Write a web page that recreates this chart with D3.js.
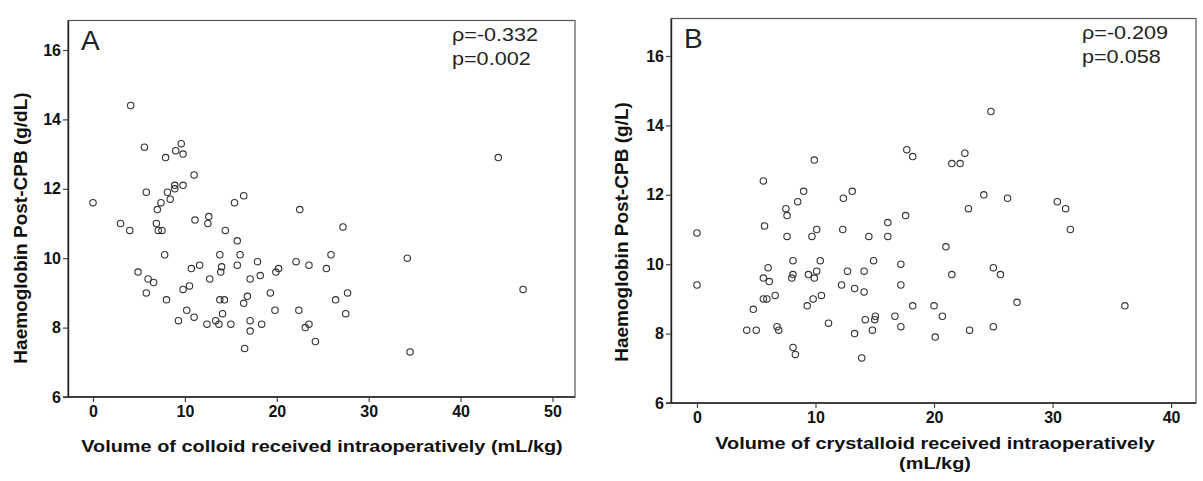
<!DOCTYPE html>
<html>
<head>
<meta charset="utf-8">
<script src="https://cdn.jsdelivr.net/npm/d3@7"></script>
<style>
  html, body { margin: 0; padding: 0; background: #fff; }
  svg { display: block; }
  .tick text { font-family: "Liberation Sans", Arial, sans-serif; font-weight: bold; font-size: 16px; fill: #111; }
  .title { font-family: "Liberation Sans", Arial, sans-serif; font-weight: bold; fill: #111; }
  .stat { font-family: "Liberation Sans", Arial, sans-serif; font-size: 18px; fill: #222; }
  .letter { font-family: "Liberation Sans", Arial, sans-serif; font-size: 28px; fill: #222; }
</style>
</head>
<body>
<svg id="chart" width="1203" height="481"></svg>
<script>
// Panel A: colloid volume (mL/kg) vs post-CPB haemoglobin (g/dL)
const colloidVolume = [4.1, 5.6, 9.6, 9.0, 9.8, 7.9, 11.0, 5.8, 8.9, 9.8, 8.9, 8.1, 0, 7.4, 8.4, 7.0,
  11.1, 12.6, 3.0, 4.0, 6.9, 7.1, 7.5, 12.5, 7.8, 4.9, 6.0, 6.6, 5.8, 10.7, 11.6, 12.7, 9.8, 10.5,
  8.0, 10.2, 11.0, 9.3, 12.4, 16.4, 15.4, 14.4, 22.5, 27.2, 15.7, 13.8, 16.0, 25.9, 14.0, 13.9, 15.7,
  17.9, 20.2, 19.9, 22.1, 23.5, 25.4, 17.1, 18.2, 19.3, 16.8, 16.4, 13.8, 14.3, 14.1, 19.8, 22.4,
  26.4, 27.7, 27.5, 13.35, 13.7, 15.0, 17.1, 17.1, 18.35, 23.5, 23.1, 24.2, 16.5, 44.1, 34.2, 46.8, 34.5];
const colloidHb = [14.4, 13.2, 13.3, 13.1, 13.0, 12.9, 12.4, 11.9, 12.1, 12.1, 12.0, 11.9, 11.6, 11.6, 11.7, 11.4,
  11.1, 11.2, 11.0, 10.8, 11.0, 10.8, 10.8, 11.0, 10.1, 9.6, 9.4, 9.3, 9.0, 9.7, 9.8, 9.4, 9.1, 9.2,
  8.8, 8.5, 8.3, 8.2, 8.1, 11.8, 11.6, 10.8, 11.4, 10.9, 10.5, 10.1, 10.1, 10.1, 9.75, 9.6, 9.8,
  9.9, 9.7, 9.6, 9.9, 9.8, 9.7, 9.4, 9.5, 9.0, 8.9, 8.7, 8.8, 8.8, 8.4, 8.5, 8.5,
  8.8, 9.0, 8.4, 8.2, 8.1, 8.1, 8.2, 7.9, 8.1, 8.1, 8.0, 7.6, 7.4, 12.9, 10.0, 9.1, 7.3];

// Panel B: crystalloid volume (mL/kg) vs post-CPB haemoglobin
const crystalloidVolume = [9.9, 5.6, 9.0, 8.5, 7.5, 7.6, 0, 5.7, 7.6, 10.1, 9.7, 0, 8.1, 10.4, 6.0, 5.6,
  6.1, 8.1, 8.0, 9.4, 10.1, 9.9, 5.6, 5.9, 6.6, 4.75, 9.3, 9.8, 10.5, 4.2, 5.0, 6.75, 6.9, 8.1, 8.3,
  11.1, 17.7, 18.2, 22.6, 21.5, 22.2, 13.1, 12.35, 22.9, 17.6, 16.1, 12.3, 14.5, 16.1, 21.0, 14.9,
  17.2, 12.7, 14.1, 21.5, 12.2, 13.3, 14.1, 17.2, 18.2, 20.0, 20.7, 14.2, 15.05, 15.0, 16.7, 14.8,
  13.3, 17.2, 20.1, 23.0, 13.9, 24.8, 24.2, 26.2, 30.4, 31.1, 31.5, 25.0, 25.6, 27.0, 36.1, 25.0];
const crystalloidHb = [13.0, 12.4, 12.1, 11.8, 11.6, 11.4, 10.9, 11.1, 10.8, 11.0, 10.8, 9.4, 10.1, 10.1, 9.9, 9.6,
  9.5, 9.7, 9.6, 9.7, 9.8, 9.6, 9.0, 9.0, 9.1, 8.7, 8.8, 9.0, 9.1, 8.1, 8.1, 8.2, 8.1, 7.6, 7.4,
  8.3, 13.3, 13.1, 13.2, 12.9, 12.9, 12.1, 11.9, 11.6, 11.4, 11.2, 11.0, 10.8, 10.8, 10.5, 10.1,
  10.0, 9.8, 9.8, 9.7, 9.4, 9.3, 9.2, 9.4, 8.8, 8.8, 8.5, 8.4, 8.5, 8.4, 8.5, 8.1,
  8.0, 8.2, 7.9, 8.1, 7.3, 14.4, 12.0, 11.9, 11.8, 11.6, 11.0, 9.9, 9.7, 8.9, 8.8, 8.2];

const hbTicks = [6, 8, 10, 12, 14, 16];
const colloidTicks = [0, 10, 20, 30, 40, 50];
const crystalloidTicks = [0, 10, 20, 30, 40];

const svg = d3.select("#chart");

// horizontal text is drawn slightly widened, like the exported figure
function wideText(sel, x, y, sx) {
  return sel.attr("transform", `translate(${x},${y}) scale(${sx},1)`);
}

function drawPanel(cfg) {
  const x = d3.scaleLinear().domain(cfg.xDomain).range([cfg.left, cfg.right]);
  const y = d3.scaleLinear().domain(cfg.yDomain).range([cfg.bottom, cfg.top]);
  const g = svg.append("g");

  // plot frame
  g.append("rect")
    .attr("x", cfg.left).attr("y", cfg.top)
    .attr("width", cfg.right - cfg.left).attr("height", cfg.bottom - cfg.top)
    .attr("fill", "none").attr("stroke", "#555").attr("stroke-width", 1.2);

  const xAxis = g.append("g")
    .attr("transform", `translate(0,${cfg.bottom})`)
    .call(d3.axisBottom(x).tickValues(cfg.xTicks).tickSize(5).tickPadding(4).tickSizeOuter(0));
  const yAxis = g.append("g")
    .attr("transform", `translate(${cfg.left},0)`)
    .call(d3.axisLeft(y).tickValues(hbTicks).tickSize(5).tickPadding(2).tickSizeOuter(0));
  [xAxis, yAxis].forEach(a => {
    a.select(".domain").attr("stroke", "#222").attr("stroke-width", 1.4);
    a.selectAll(".tick line").attr("stroke", "#444").attr("stroke-width", 1.2);
  });
  xAxis.select(".domain").attr("d", `M${cfg.left - 5},0H${cfg.right}`);

  // scatter markers
  g.append("g").selectAll("circle")
    .data(cfg.xs.map((v, i) => [v, cfg.ys[i]]))
    .join("circle")
    .attr("cx", d => x(d[0])).attr("cy", d => y(d[1]))
    .attr("r", 3.2)
    .attr("fill", "none").attr("stroke", "#333").attr("stroke-width", 1.1);

  // panel letter and statistics
  g.append("text").attr("class", "letter")
    .attr("x", cfg.left + 13).attr("y", cfg.top + 29).text(cfg.letter);
  wideText(g.append("text").attr("class", "stat"), cfg.statX, cfg.top + 20, 1.2).text(cfg.rho);
  wideText(g.append("text").attr("class", "stat"), cfg.statX, cfg.top + 44, 1.2).text(cfg.pval);

  // axis titles
  cfg.xTitle.forEach((line, i) => {
    wideText(g.append("text").attr("class", "title").attr("text-anchor", "middle")
      .style("font-size", "17px"), cfg.xTitleX, cfg.xTitleY + i * 20, 1.17).text(line);
  });
  g.append("text").attr("class", "title").attr("text-anchor", "middle")
    .style("font-size", "19px")
    .attr("transform", `translate(${cfg.yTitleX},${cfg.yTitleY}) rotate(-90)`)
    .text(cfg.yTitle);
}

drawPanel({
  left: 68, right: 575, top: 20.5, bottom: 397,
  xDomain: [-2.72, 52.45], yDomain: [6, 16.85],
  xTicks: colloidTicks, xs: colloidVolume, ys: colloidHb,
  letter: "A", rho: "\u03c1=-0.332", pval: "p=0.002", statX: 452,
  xTitle: ["Volume of colloid received intraoperatively (mL/kg)"], xTitleX: 322, xTitleY: 452,
  yTitle: "Haemoglobin Post-CPB (g/dL)", yTitleX: 27, yTitleY: 228
});

drawPanel({
  left: 671, right: 1196, top: 18.5, bottom: 403,
  xDomain: [-2.19, 42.1], yDomain: [6, 17.08],
  xTicks: crystalloidTicks, xs: crystalloidVolume, ys: crystalloidHb,
  letter: "B", rho: "\u03c1=-0.209", pval: "p=0.058", statX: 1082,
  xTitle: ["Volume of crystalloid received intraoperatively", "(mL/kg)"], xTitleX: 935, xTitleY: 449,
  yTitle: "Haemoglobin Post-CPB (g/L)", yTitleX: 628, yTitleY: 232
});
</script>
</body>
</html>
